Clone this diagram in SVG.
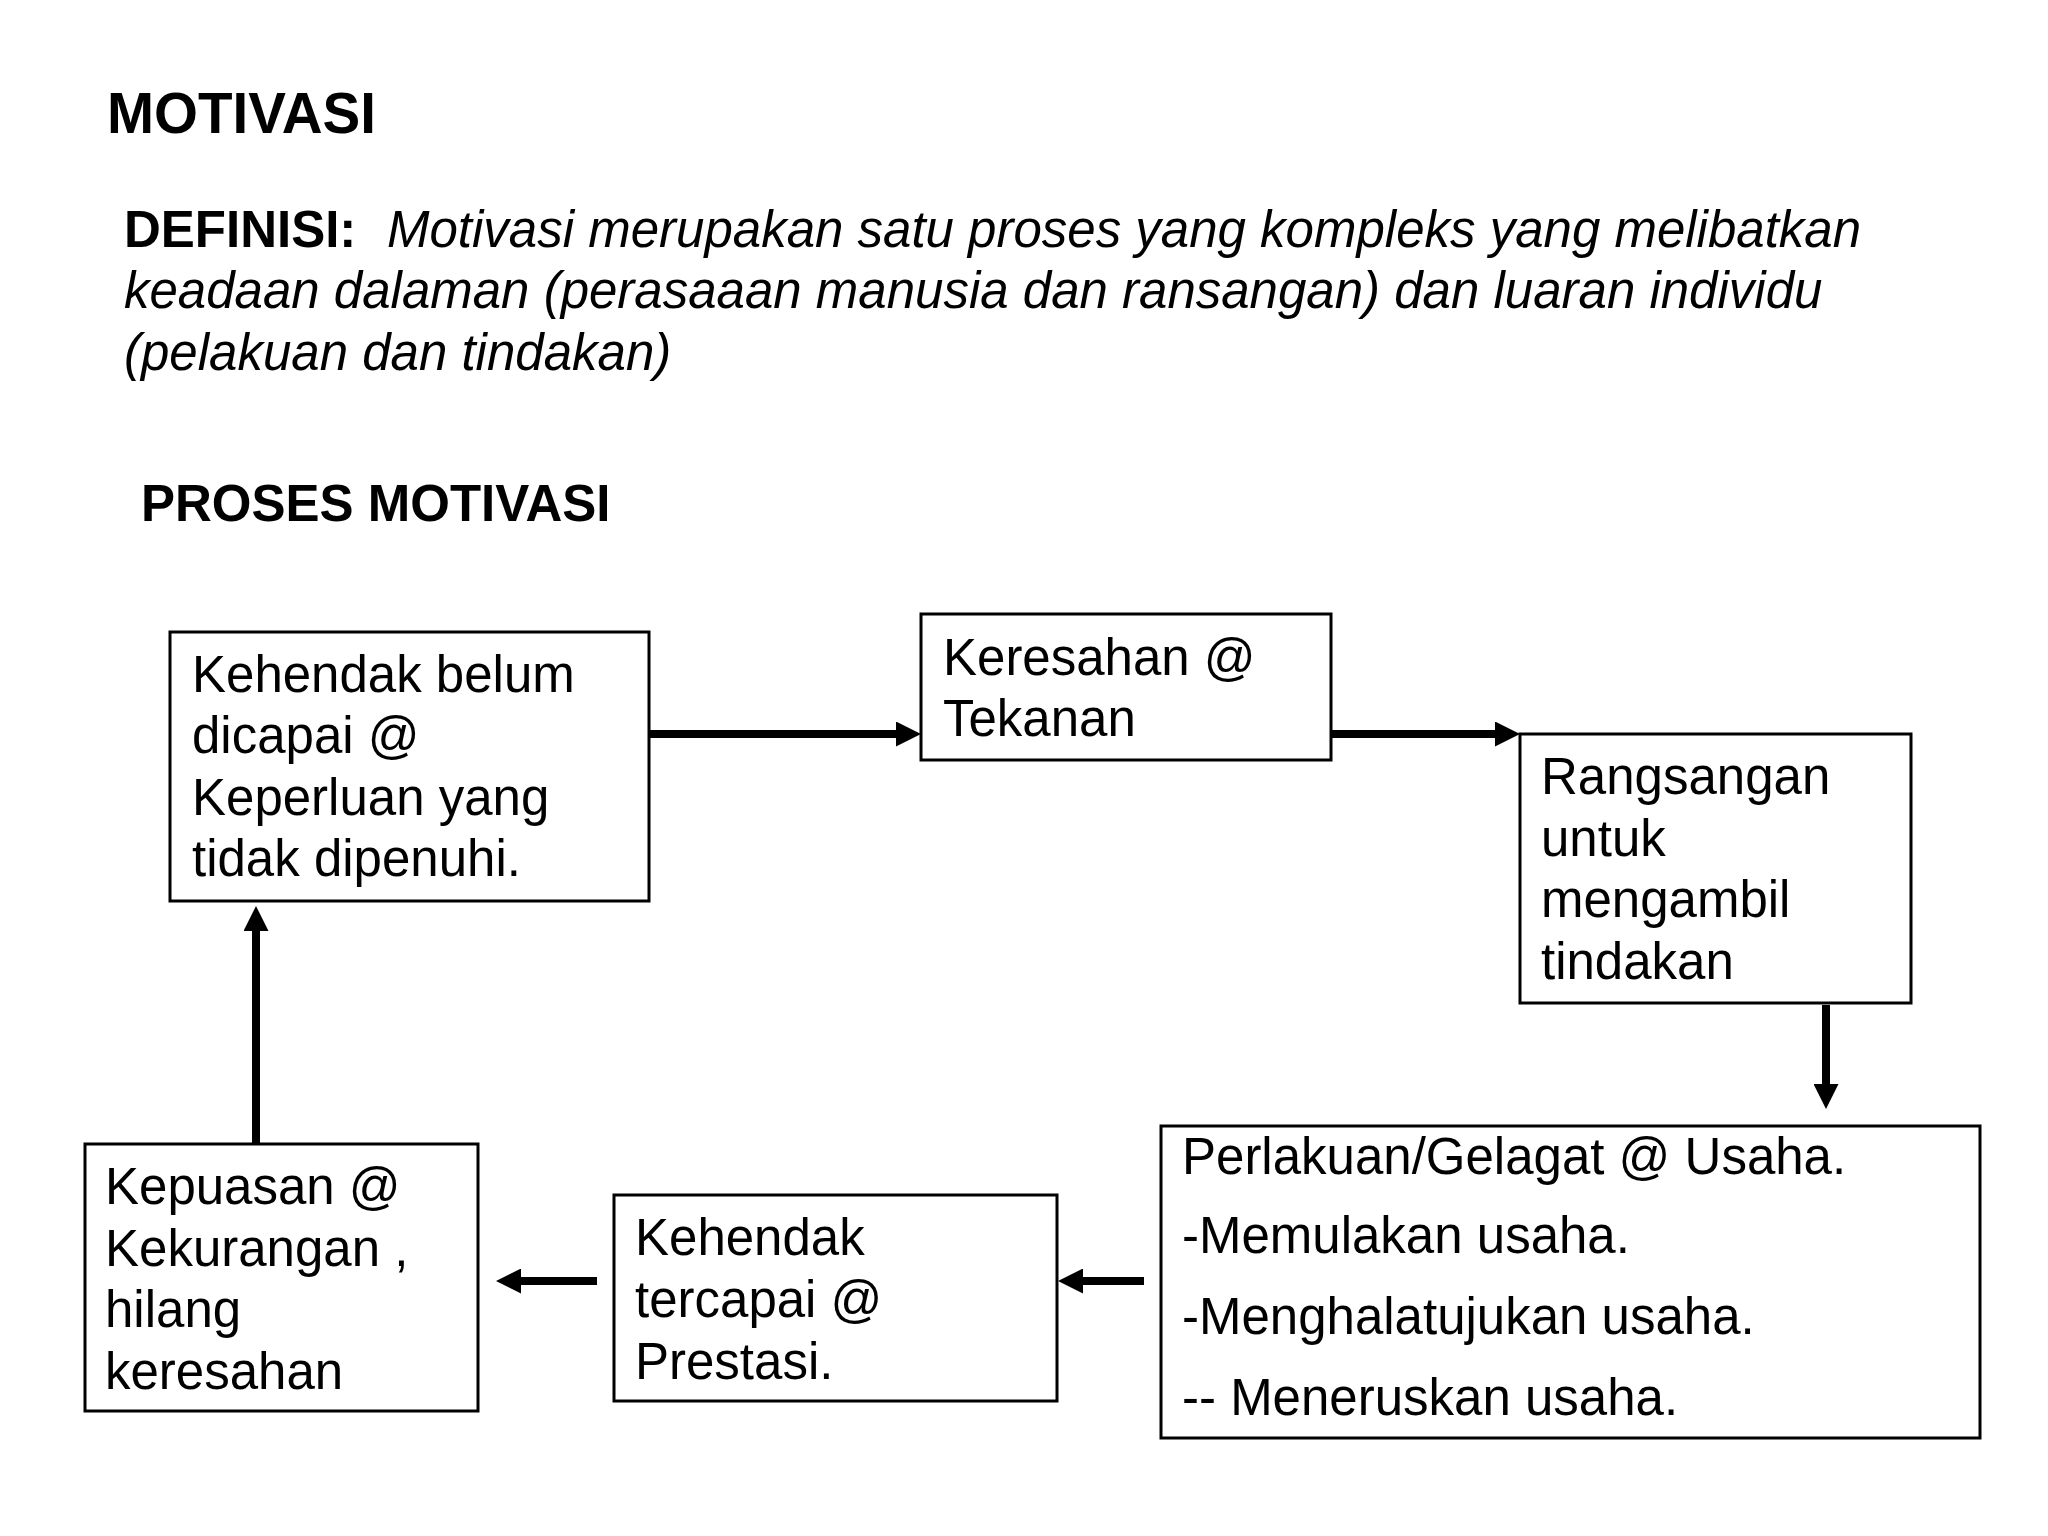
<svg xmlns="http://www.w3.org/2000/svg" width="2048" height="1536" viewBox="0 0 2048 1536">
<style>
text{font-family:"Liberation Sans",Arial,sans-serif;fill:#000}
.t{font-size:51px}
.b{font-weight:bold}
.i{font-style:italic}
.box{fill:#fff;stroke:#000;stroke-width:3}
.con{stroke:#000;stroke-width:8;fill:none}
</style>
<defs>
<marker id="ah" markerUnits="userSpaceOnUse" markerWidth="25" markerHeight="25" refX="0" refY="12.5" orient="auto">
<path d="M0,0 L25,12.5 L0,25 Z" fill="#000"/>
</marker>
</defs>
<rect width="2048" height="1536" fill="#fff"/>
<g id="header">
<text x="107" y="133" class="b" font-size="56.5">MOTIVASI</text>
<text class="t" y="247"><tspan x="124" class="b">DEFINISI:</tspan><tspan x="387" class="i">Motivasi merupakan satu proses yang kompleks yang melibatkan</tspan></text>
<text class="t i" x="124" y="308">keadaan dalaman (perasaaan manusia dan ransangan) dan luaran individu</text>
<text class="t i" x="124" y="370">(pelakuan dan tindakan)</text>
<text x="141" y="521" class="t b">PROSES MOTIVASI</text>
</g>
<g id="connectors">
<line class="con" x1="650" y1="734" x2="896" y2="734" marker-end="url(#ah)"/>
<line class="con" x1="1331" y1="734" x2="1495" y2="734" marker-end="url(#ah)"/>
<line class="con" x1="1826" y1="1005" x2="1826" y2="1084" marker-end="url(#ah)"/>
<line class="con" x1="1144" y1="1281" x2="1083" y2="1281" marker-end="url(#ah)"/>
<line class="con" x1="597" y1="1281" x2="521" y2="1281" marker-end="url(#ah)"/>
<line class="con" x1="256" y1="1144" x2="256" y2="931" marker-end="url(#ah)"/>
</g>
<g id="n1">
<rect class="box" x="170" y="632" width="479" height="269"/>
<text class="t" x="192" y="692">Kehendak belum</text>
<text class="t" x="192" y="753">dicapai @</text>
<text class="t" x="192" y="815">Keperluan yang</text>
<text class="t" x="192" y="876">tidak dipenuhi.</text>
</g>
<g id="n2">
<rect class="box" x="921" y="614" width="410" height="146"/>
<text class="t" x="943" y="675">Keresahan @</text>
<text class="t" x="943" y="736">Tekanan</text>
</g>
<g id="n3">
<rect class="box" x="1520" y="734" width="391" height="269"/>
<text class="t" x="1541" y="794">Rangsangan</text>
<text class="t" x="1541" y="856">untuk</text>
<text class="t" x="1541" y="917">mengambil</text>
<text class="t" x="1541" y="979">tindakan</text>
</g>
<g id="n4">
<rect class="box" x="1161" y="1126" width="819" height="312"/>
<text class="t" x="1182" y="1174">Perlakuan/Gelagat @ Usaha.</text>
<text class="t" x="1182" y="1253">-Memulakan usaha.</text>
<text class="t" x="1182" y="1334">-Menghalatujukan usaha.</text>
<text class="t" x="1182" y="1415">-- Meneruskan usaha.</text>
</g>
<g id="n5">
<rect class="box" x="614" y="1195" width="443" height="206"/>
<text class="t" x="635" y="1255">Kehendak</text>
<text class="t" x="635" y="1317">tercapai @</text>
<text class="t" x="635" y="1379">Prestasi.</text>
</g>
<g id="n6">
<rect class="box" x="85" y="1144" width="393" height="267"/>
<text class="t" x="105" y="1204">Kepuasan @</text>
<text class="t" x="105" y="1266">Kekurangan ,</text>
<text class="t" x="105" y="1327">hilang</text>
<text class="t" x="105" y="1389">keresahan</text>
</g>
</svg>
